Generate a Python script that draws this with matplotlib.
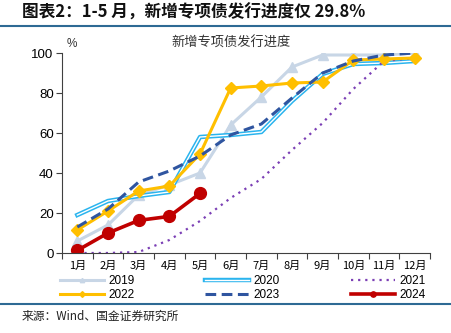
import numpy as np
import matplotlib
matplotlib.use("Agg")
from matplotlib import pyplot as plt
from matplotlib import patheffects as pe
from matplotlib.lines import Line2D

plt.rcParams['font.family'] = ['Liberation Sans', 'Noto Sans CJK SC', 'DejaVu Sans']
cjk = ['Noto Sans CJK SC', 'DejaVu Sans']

months = ['1月', '2月', '3月', '4月', '5月', '6月', '7月', '8月', '9月', '10月', '11月', '12月']
y2019 = [6, 14, 29, 34, 40, 64, 78, 93, 99, 99, 99, 100]
y2020 = [19, 26, 28.5, 30.5, 58, 59, 60.5, 76, 89.5, 94.5, 95, 96]
y2021 = [0, 0, 0.5, 6.5, 16, 27.5, 37, 51.5, 65, 82, 96, 97.5]
y2022 = [11.5, 21, 31, 33.5, 49.5, 82.5, 83.5, 85, 85.5, 96.5, 97, 97.5]
y2023 = [13, 22, 35.5, 41, 48.5, 59, 64.5, 77.5, 90, 96, 99, 100]
y2024 = [1.3, 10, 16.3, 18.3, 29.8]

fig = plt.figure(figsize=(4.52, 3.33), dpi=100)
ax = fig.add_axes([62/452, 1-253/333, 368/452, 200/333])

x = np.arange(12)
l19, = ax.plot(x, y2019, color='#C8D6E6', lw=2.2, marker='^', ms=7, label='2019')
l20, = ax.plot(x, y2020, color='white', lw=1.0, label='2020',
               path_effects=[pe.Stroke(linewidth=3.2, foreground='#2AB4EE'), pe.Normal()])
l21, = ax.plot(x, y2021, color='#7B3FB5', lw=1.6, ls=(0, (1, 2.2)), label='2021')
l22, = ax.plot(x, y2022, color='#FFBF00', lw=2.2, marker='D', ms=6.5, label='2022')
l23, = ax.plot(x, y2023, color='#2F55A0', lw=2.2, ls=(0, (3.5, 1.8)), label='2023')
l24, = ax.plot(x[:len(y2024)], y2024, color='#C00000', lw=2.6, marker='o', ms=8.5, label='2024')

ax.set_xlim(-0.5, 11.5)
ax.set_ylim(0, 100)
ax.set_yticks(range(0, 101, 20))
ax.set_xticks(np.arange(-0.5, 12, 1))
ax.set_xticklabels([])
ax.set_xticks(x, minor=True)
ax.set_xticklabels(months, minor=True, family=cjk, fontsize=8)
ax.tick_params(axis='x', which='minor', length=0, pad=6)
ax.tick_params(axis='x', which='major', length=4, width=0.8, color='#404040')
ax.tick_params(axis='y', length=4, width=0.8, color='#404040', labelsize=9.5, pad=2)
for s in ['top', 'right']:
    ax.spines[s].set_visible(False)
for s in ['left', 'bottom']:
    ax.spines[s].set_color('#404040')
    ax.spines[s].set_linewidth(0.8)

handles = [l19, l22, l20, l23, l21, l24]
fig.legend(handles=handles, labels=[h.get_label() for h in handles], ncol=3,
           loc='center left', bbox_to_anchor=(60/452, 1-288/333), frameon=False,
           fontsize=8.5, handlelength=3.7, handletextpad=0.4, columnspacing=6.0,
           labelspacing=0.15, markerscale=0.45, borderpad=0, borderaxespad=0)

fig.text(231/452, 1-43/333, '新增专项债发行进度', family=cjk, fontsize=9.5,
         ha='center', va='center', color='#333333')
fig.text(72/452, 1-44/333, '%', fontsize=8.5, ha='center', va='center', color='#333333')

fig.text(22/452, 1-13/333, '图表2：1-5 月，新增专项债发行进度仅 29.8%', family=cjk,
         fontsize=12, fontweight='bold', style='italic', ha='left', va='center', color='#111111')
fig.add_artist(Line2D([0, 1], [1-26/333, 1-26/333], color='#2E6A94', lw=1.5))
fig.add_artist(Line2D([0, 1], [1-304/333, 1-304/333], color='#2E6A94', lw=1.5))
fig.text(22/452, 1-316/333, '来源：Wind、国金证券研究所', family=cjk, fontsize=8.5,
         ha='left', va='center', color='#222222')

fig.savefig('out.png', dpi=100)
